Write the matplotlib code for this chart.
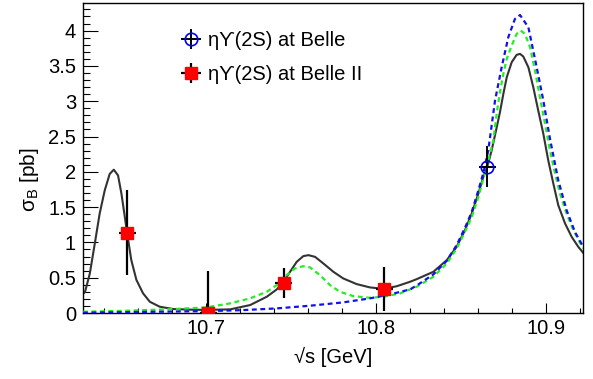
import numpy as np
import matplotlib
matplotlib.use("Agg")
import matplotlib.pyplot as plt
from matplotlib.ticker import MultipleLocator

plt.rcParams["font.family"] = ["Liberation Sans", "DejaVu Sans"]
plt.rcParams["mathtext.fontset"] = "custom"
plt.rcParams["mathtext.rm"] = "Liberation Sans"

# measured points
belle2_x = [10.6537, 10.7015, 10.7460, 10.8050]
belle2_y = [1.14, 0.00, 0.43, 0.34]
belle2_err = [0.60, 0.60, 0.21, 0.31]

belle_x = [10.8655]
belle_y = [2.07]
belle_err = [0.29]

x_err = 0.005

# fit curves
black_x = [10.6278, 10.6290, 10.6318, 10.6347, 10.6376, 10.6406, 10.6435, 10.6459,
           10.6484, 10.6504, 10.6524, 10.6537, 10.6562, 10.6592, 10.6631, 10.6671,
           10.6729, 10.6808, 10.6925, 10.7004, 10.7143, 10.7261, 10.7359, 10.7418,
           10.7456, 10.7496, 10.7535, 10.7574, 10.7604, 10.7643, 10.7692, 10.7751,
           10.7809, 10.7888, 10.7966, 10.8045, 10.8124, 10.8202, 10.8241, 10.8339,
           10.8418, 10.8476, 10.8525, 10.8565, 10.8604, 10.8633, 10.8656, 10.8682,
           10.8708, 10.8731, 10.8751, 10.8771, 10.8800, 10.8829, 10.8849, 10.8868,
           10.8898, 10.8927, 10.8956, 10.8986, 10.9015, 10.9045, 10.9074, 10.9114,
           10.9153, 10.9192, 10.9221]
black_y = [0.27, 0.30, 0.56, 0.98, 1.41, 1.74, 1.97, 2.03,
           1.95, 1.69, 1.36, 1.14, 0.75, 0.47, 0.28, 0.16,
           0.09, 0.057, 0.047, 0.045, 0.052, 0.113, 0.231, 0.335,
           0.443, 0.584, 0.725, 0.806, 0.82, 0.796, 0.702, 0.584,
           0.49, 0.41, 0.363, 0.343, 0.38, 0.443, 0.48, 0.584,
           0.749, 0.937, 1.173, 1.409, 1.692, 1.927, 2.068, 2.304,
           2.587, 2.845, 3.105, 3.34, 3.552, 3.656, 3.67, 3.633,
           3.481, 3.199, 2.869, 2.54, 2.163, 1.833, 1.527, 1.268,
           1.078, 0.937, 0.852]

green_x = [10.6278, 10.6533, 10.6768, 10.7004, 10.7143, 10.7261, 10.7359, 10.7418,
           10.7476, 10.7525, 10.7574, 10.7614, 10.7672, 10.7731, 10.7790, 10.7868,
           10.7966, 10.8045, 10.8124, 10.8143, 10.8241, 10.8339, 10.8418, 10.8476,
           10.8525, 10.8565, 10.8604, 10.8633, 10.8662, 10.8692, 10.8713, 10.8731,
           10.8751, 10.8771, 10.8800, 10.8829, 10.8853, 10.8878, 10.8908, 10.8937,
           10.8966, 10.8996, 10.9025, 10.9055, 10.9084, 10.9123, 10.9163, 10.9202,
           10.9221]
green_y = [0.018, 0.033, 0.052, 0.08, 0.137, 0.208, 0.301, 0.396,
           0.537, 0.632, 0.664, 0.646, 0.537, 0.396, 0.301, 0.24,
           0.216, 0.23, 0.269, 0.278, 0.372, 0.513, 0.702, 0.914,
           1.149, 1.361, 1.644, 1.904, 2.163, 2.445, 2.85, 3.128,
           3.388, 3.6, 3.788, 3.953, 4.0, 3.953, 3.764, 3.435,
           3.057, 2.681, 2.304, 1.975, 1.692, 1.409, 1.173, 0.994,
           0.914]

blue_x = [10.6278, 10.6768, 10.7025, 10.7221, 10.7418, 10.7614, 10.7809, 10.7966,
          10.8084, 10.8202, 10.8241, 10.8339, 10.8418, 10.8476, 10.8525, 10.8565,
          10.8604, 10.8633, 10.8662, 10.8702, 10.8741, 10.8780, 10.8819, 10.8849,
          10.8898, 10.8947, 10.8986, 10.9025, 10.9074, 10.9123, 10.9172, 10.9221]
blue_y = [0.005, 0.02, 0.028, 0.042, 0.066, 0.104, 0.151, 0.208,
          0.264, 0.335, 0.39, 0.547, 0.74, 0.961, 1.206, 1.432,
          1.739, 1.983, 2.3, 3.01, 3.481, 3.906, 4.165, 4.22,
          4.047, 3.481, 3.01, 2.47, 1.88, 1.456, 1.149, 0.937]

fig = plt.figure(figsize=(5.93, 3.79), dpi=100)
ax = fig.add_axes([0.140, 0.174, 0.843, 0.818])

ax.plot(black_x, black_y, color="#333333", lw=1.5, zorder=2,
        solid_joinstyle="round")
ax.plot(green_x, green_y, color="#22ee22", lw=1.6, ls=(0, (2.2, 1.6)), zorder=3)
ax.plot(blue_x, blue_y, color="#1111ee", lw=1.6, ls=(0, (2.2, 1.6)), zorder=3)

h1 = ax.errorbar(belle_x, belle_y, yerr=belle_err, xerr=x_err, fmt="o", ms=9,
                 mfc="none", mec="#0000ff", mew=1.2, ecolor="black", elinewidth=1.4,
                 capsize=0, zorder=5)
h2 = ax.errorbar(belle2_x, belle2_y, yerr=belle2_err, xerr=x_err, fmt="s", ms=8.5,
                 mfc="#ff0000", mec="#ff0000", ecolor="black", elinewidth=1.6,
                 capsize=0, zorder=5)

ax.set_xlim(10.6278, 10.9219)
ax.set_ylim(0, 4.39)
ax.xaxis.set_major_locator(MultipleLocator(0.1))
ax.xaxis.set_minor_locator(MultipleLocator(0.02))
ax.yaxis.set_major_locator(MultipleLocator(0.5))
ax.yaxis.set_minor_locator(MultipleLocator(0.1))
ax.set_yticks([0, 0.5, 1, 1.5, 2, 2.5, 3, 3.5, 4])
ax.set_yticklabels(["0", "0.5", "1", "1.5", "2", "2.5", "3", "3.5", "4"])
ax.set_xticks([10.7, 10.8, 10.9])
ax.set_xticklabels(["10.7", "10.8", "10.9"])

ax.tick_params(which="both", direction="in", top=False, right=False,
               labelsize=14.5, width=0.8, color="black")
ax.tick_params(axis="y", which="major", length=11, pad=5)
ax.tick_params(axis="y", which="minor", length=5)
ax.tick_params(axis="x", which="major", length=7, pad=4)
ax.tick_params(axis="x", which="minor", length=3.5)
for sp in ax.spines.values():
    sp.set_linewidth(1.0)

ax.set_xlabel("\u221as [GeV]", fontsize=14.5)
ax.set_ylabel("\u03c3$_{\\rm B}$ [pb]", fontsize=15)
ax.xaxis.set_label_coords(0.5, -0.11)
ax.yaxis.set_label_coords(-0.085, 0.43)

ax.legend([h1, h2], ["\u03b7\u03d2(2S) at Belle", "\u03b7\u03d2(2S) at Belle II"],
          loc="upper left", bbox_to_anchor=(0.196, 0.91), frameon=False,
          fontsize=14.5, borderpad=0, borderaxespad=0, handlelength=1.0,
          handletextpad=0.35, labelspacing=0.75)

fig.savefig("out.png", dpi=100)
